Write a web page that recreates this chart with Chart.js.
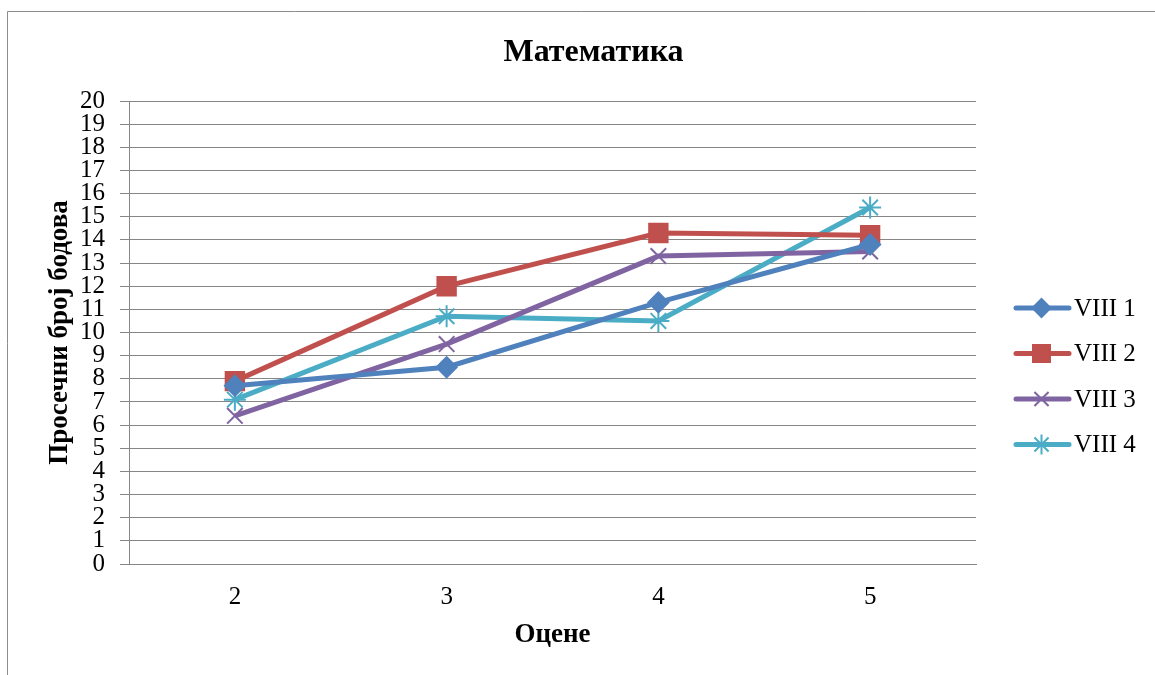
<!DOCTYPE html>
<html>
<head>
<meta charset="utf-8">
<script src="https://cdn.jsdelivr.net/npm/chart.js@4.4.1/dist/chart.umd.min.js"></script>
<style>
  html, body { margin: 0; padding: 0; background: #fff; }
  #wrap { position: relative; width: 1155px; height: 675px; }
</style>
</head>
<body>
<div id="wrap"><canvas id="chart" width="1155" height="675"></canvas></div>
<script>
// Data
const categories = ['2', '3', '4', '5'];
const seriesNames = ['VIII 1', 'VIII 2', 'VIII 3', 'VIII 4'];
const viii1 = [7.7, 8.5, 11.3, 13.8];
const viii2 = [7.9, 12.0, 14.3, 14.2];
const viii3 = [6.4, 9.5, 13.3, 13.5];
const viii4 = [7.1, 10.7, 10.5, 15.4];
const yTickMin = 0;
const yTickMax = 20;

const FONT = '"Liberation Serif", "Times New Roman", serif';
const GRID = '#868686';

const series = [
    { data: viii1, color: '#4F81BD', marker: 'rectRot', radius: 10 },
    { data: viii2, color: '#C0504D', marker: 'rect', radius: 13 },
    { data: viii3, color: '#8064A2', marker: 'crossRot', radius: 11 },
    { data: viii4, color: '#4BACC6', marker: 'star', radius: 11 }
];

// Title, outer frame and right-hand legend drawn on the canvas
const decorPlugin = {
    id: 'decor',
    afterDraw(chart) {
        const ctx = chart.ctx;
        ctx.save();
        ctx.strokeStyle = '#8c8c8c';
        ctx.lineWidth = 1;
        ctx.beginPath();
        ctx.moveTo(7.5, 675);
        ctx.lineTo(7.5, 11.5);
        ctx.lineTo(1155, 11.5);
        ctx.stroke();

        ctx.fillStyle = '#000';
        ctx.font = 'bold 32px ' + FONT;
        ctx.textAlign = 'center';
        ctx.textBaseline = 'middle';
        ctx.fillText('Математика', 593.5, 53);

        ctx.font = '25px ' + FONT;
        ctx.textAlign = 'left';
        chart.data.datasets.forEach((ds, i) => {
            const y = 308 + i * 45.5;
            ctx.strokeStyle = ds.borderColor;
            ctx.fillStyle = ds.borderColor;
            ctx.lineWidth = 5;
            ctx.lineCap = 'round';
            ctx.beginPath();
            ctx.moveTo(1016, y);
            ctx.lineTo(1069, y);
            ctx.stroke();
            ctx.lineWidth = 2;
            ctx.lineCap = 'butt';
            Chart.helpers.drawPoint(ctx, {
                pointStyle: ds.pointStyle,
                radius: ds.pointRadius - 1,
                borderWidth: ds.pointBorderWidth,
                rotation: 0
            }, 1041.5, y);
            ctx.fillStyle = '#000';
            ctx.fillText(ds.label, 1074, y + 1);
        });
        ctx.restore();
    }
};

new Chart(document.getElementById('chart'), {
    type: 'line',
    data: {
        labels: categories,
        datasets: series.map((s, i) => ({
            label: seriesNames[i],
            data: s.data,
            borderColor: s.color,
            backgroundColor: s.color,
            pointBackgroundColor: s.color,
            pointBorderColor: s.color,
            pointStyle: s.marker,
            pointRadius: s.radius,
            pointHoverRadius: s.radius,
            pointBorderWidth: 2,
            borderWidth: 5,
            tension: 0,
            fill: false
        }))
    },
    options: {
        responsive: false,
        animation: false,
        events: [],
        layout: { padding: { left: 8, top: 101, right: 179, bottom: 0 } },
        plugins: {
            legend: { display: false },
            title: { display: false },
            tooltip: { enabled: false }
        },
        scales: {
            x: {
                offset: true,
                grid: { display: false },
                border: { display: true, color: GRID, width: 1 },
                ticks: { color: '#000', font: { family: FONT, size: 25 }, padding: 10 },
                title: {
                    display: true,
                    text: 'Оцене',
                    color: '#000',
                    font: { family: FONT, size: 27, weight: 'bold' },
                    padding: { top: 0, bottom: 24 }
                },
                afterFit(scale) { scale.height = 111; }
            },
            y: {
                min: yTickMin,
                max: yTickMax,
                grid: { color: GRID, lineWidth: 1, tickLength: 9, drawTicks: true },
                border: { display: true, color: GRID, width: 1 },
                ticks: {
                    stepSize: 1,
                    autoSkip: false,
                    color: '#000',
                    font: { family: FONT, size: 25, lineHeight: 1 },
                    padding: 15
                },
                title: {
                    display: true,
                    text: 'Просечни број бодова',
                    color: '#000',
                    font: { family: FONT, size: 27, weight: 'bold' },
                    padding: { top: 36, bottom: 0 }
                },
                afterFit(scale) { scale.width = 121; }
            }
        }
    },
    plugins: [decorPlugin]
});
</script>
</body>
</html>
